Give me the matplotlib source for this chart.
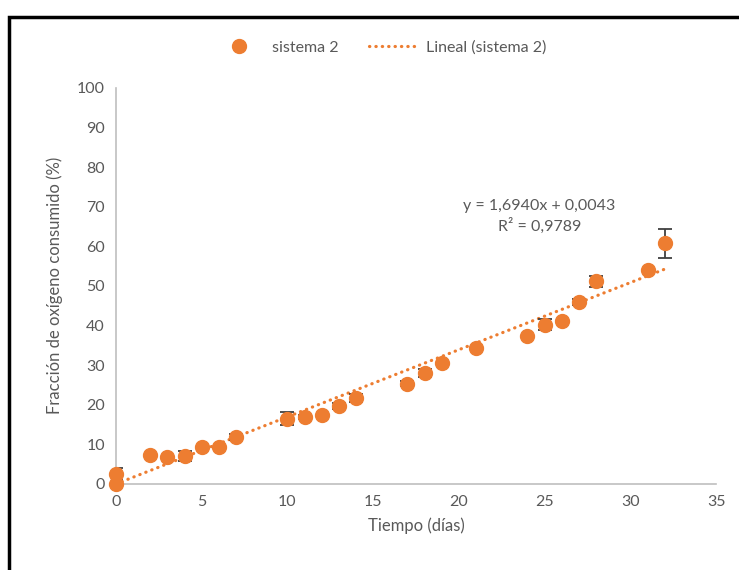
import matplotlib
matplotlib.use("Agg")
import matplotlib.pyplot as plt
import numpy as np
from matplotlib.patches import Rectangle

plt.rcParams['font.family'] = ['Lato', 'DejaVu Sans']

# datos
dias = [0, 0, 2, 3, 4, 5, 6, 7, 10, 11, 12, 13, 14, 17, 18, 19, 21, 24, 25, 26, 27, 28, 31, 32]
fraccion = [0.0, 2.5, 7.3, 6.8, 7.1, 9.3, 9.4, 11.9, 16.5, 16.9, 17.4, 19.7, 21.7,
            25.3, 28.0, 30.6, 34.3, 37.4, 40.2, 41.2, 46.0, 51.1, 54.0, 60.7]
error = [0.0, 1.5, 0.0, 0.0, 1.2, 0.0, 0.0, 0.8, 1.6, 0.6, 0.0, 0.8, 1.0,
         0.6, 1.0, 0.0, 0.0, 0.0, 1.4, 0.0, 0.8, 1.4, 0.0, 3.6]
pendiente = 1.6940
intercepto = 0.0043

naranja = '#ED7D31'
gris = '#595959'

fig = plt.figure(figsize=(7.39, 5.70), dpi=100)
ax = fig.add_axes([0.157, 0.151, 0.812, 0.695])

ax.errorbar(dias, fraccion, yerr=error, fmt='none', ecolor='#404040',
            elinewidth=1.3, capsize=5, capthick=1.3, zorder=2)
ax.plot(dias, fraccion, 'o', color=naranja, ms=10, zorder=3, label='sistema 2',
        clip_on=False)

xt = np.array([0, 32])
ax.plot(xt, pendiente * xt + intercepto, color=naranja, lw=2.3,
        linestyle=(0, (0.1, 1.9)), dash_capstyle='round', zorder=1,
        label='Lineal (sistema 2)')

ax.text(24.7, 67.5, 'y = 1,6940x + 0,0043\nR² = 0,9789', ha='center', va='center',
        fontsize=11.5, color=gris, linespacing=1.4)

ax.set_xlim(0, 35)
ax.set_ylim(0, 100)
ax.set_xticks(range(0, 36, 5))
ax.set_yticks(range(0, 101, 10))
ax.tick_params(length=0, labelsize=11.5, colors=gris, pad=8)
for s in ['top', 'right']:
    ax.spines[s].set_visible(False)
for s in ['left', 'bottom']:
    ax.spines[s].set_color('#BFBFBF')
    ax.spines[s].set_linewidth(1.2)

ax.set_xlabel('Tiempo (días)', fontsize=12, color=gris, labelpad=6)
ax.set_ylabel('Fracción de oxígeno consumido (%)', fontsize=12, color=gris, labelpad=10)

fig.legend(loc='center', bbox_to_anchor=(0.515, 0.916), ncol=2, frameon=False,
           fontsize=11.5, labelcolor=gris, handlelength=3.0, columnspacing=1.9,
           handletextpad=0.55)

fig.patches.append(Rectangle((9 / 739, -0.1), 1.2, 1 - 17 / 570 + 0.1,
                             transform=fig.transFigure, fill=False,
                             edgecolor='black', lw=2.5))

fig.savefig('out.png', dpi=100)
